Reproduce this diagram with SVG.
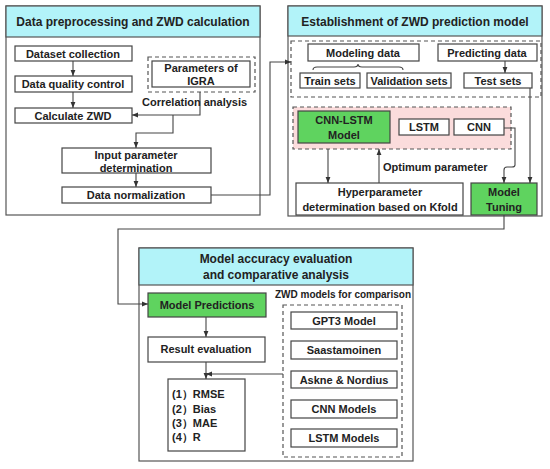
<svg xmlns="http://www.w3.org/2000/svg" width="550" height="469" viewBox="0 0 550 469">
<defs>
<marker id="ah" viewBox="0 0 10 10" refX="10" refY="5" markerWidth="6" markerHeight="6" orient="auto" markerUnits="userSpaceOnUse">
<path d="M0,1 L10,5 L0,9 z" fill="#333"/>
</marker>
<style>
text{font-family:"Liberation Sans",Arial,sans-serif;font-weight:bold;fill:#222;font-size:11px;text-anchor:middle}
.t{font-size:12px}
.s{font-size:10px}
.l{text-anchor:start}
.panel{fill:#fff;stroke:#555;stroke-width:1.2}
.hdr{fill:#b2f3f9;stroke:#555;stroke-width:1.2}
.box{fill:#fff;stroke:#444;stroke-width:1.2}
.g{fill:#5fd35f;stroke:#444;stroke-width:1.2}
.dash{fill:none;stroke:#555;stroke-width:1.2;stroke-dasharray:4 3}
.pink{fill:#fbdcdc;stroke:#555;stroke-width:1.2;stroke-dasharray:4 3}
.c{fill:none;stroke:#444;stroke-width:1.1}
</style>
</defs>

<g id="panel1">
<rect class="panel" x="6" y="6" width="254" height="209"/>
<rect class="hdr" x="6" y="6" width="254" height="31"/>
<text class="t" x="133" y="26">Data preprocessing and ZWD calculation</text>
</g>
<g id="panel2">
<rect class="panel" x="288" y="6" width="254" height="210"/>
<rect class="hdr" x="288" y="6" width="254" height="30"/>
<text class="t" x="415" y="26">Establishment of ZWD prediction model</text>
</g>
<g id="panel3">
<rect class="panel" x="139" y="248" width="274" height="213"/>
<rect class="hdr" x="139" y="248" width="274" height="37"/>
<text class="t" x="276" y="263">Model accuracy evaluation</text>
<text class="t" x="276" y="279">and comparative analysis</text>
</g>

<g id="dataset-collection"><rect class="box" x="15" y="46" width="117" height="15"/><text x="73" y="58">Dataset collection</text></g>
<g id="data-quality"><rect class="box" x="15" y="76" width="117" height="16"/><text x="73" y="88">Data quality control</text></g>
<g id="calc-zwd"><rect class="box" x="15" y="108" width="117" height="15"/><text x="73" y="120">Calculate ZWD</text></g>
<g id="igra">
<rect class="dash" x="148" y="57" width="107" height="35"/>
<rect class="box" x="152" y="61" width="98" height="26"/>
<text x="201" y="72">Parameters of</text>
<text x="201" y="85">IGRA</text>
</g>
<g id="input-param"><rect class="box" x="62" y="148" width="149" height="25"/><text x="136" y="159">Input parameter</text><text x="136" y="172">determination</text></g>
<g id="data-norm"><rect class="box" x="62" y="187" width="149" height="16"/><text x="136" y="199">Data normalization</text></g>

<g id="data-split">
<rect class="dash" x="291" y="41" width="250" height="56"/>
<rect class="box" x="308" y="44" width="111" height="17"/><text x="363" y="57">Modeling data</text>
<rect class="box" x="438" y="44" width="99" height="17"/><text x="487" y="57">Predicting data</text>
<rect class="box" x="300" y="73" width="60" height="15"/><text x="330" y="85">Train sets</text>
<rect class="box" x="367" y="73" width="84" height="15"/><text x="409" y="85">Validation sets</text>
<rect class="box" x="464" y="73" width="68" height="15"/><text x="498" y="85">Test sets</text>
<path class="c" d="M313,70 Q313,67 317,67 L354,67 Q358,67 358,64 Q358,67 362,67 L399,67 Q403,67 403,70"/>
</g>
<g id="models">
<rect class="pink" x="293" y="107" width="218" height="42"/>
<rect class="g" x="298" y="111" width="92" height="32"/><text x="344" y="124">CNN-LSTM</text><text x="344" y="139">Model</text>
<rect class="box" x="399" y="119" width="50" height="16"/><text x="424" y="131">LSTM</text>
<rect class="box" x="454" y="119" width="50" height="16"/><text x="479" y="131">CNN</text>
</g>
<g id="hyperparam"><rect class="box" x="296" y="183" width="167" height="32"/><text x="380" y="196">Hyperparameter</text><text x="380" y="211">determination based on Kfold</text></g>
<g id="model-tuning"><rect class="g" x="471" y="183" width="66" height="32"/><text x="504" y="196">Model</text><text x="504" y="211">Tuning</text></g>

<g id="model-predictions"><rect class="g" x="148" y="293" width="118" height="24"/><text x="207" y="309">Model Predictions</text></g>
<g id="result-eval"><rect class="box" x="148" y="337" width="117" height="25"/><text x="206" y="353">Result evaluation</text></g>
<g id="metrics">
<rect class="box" x="168" y="379" width="77" height="72"/>
<text class="l" x="172" y="398">(1）RMSE</text>
<text class="l" x="172" y="413">(2）Bias</text>
<text class="l" x="172" y="427">(3）MAE</text>
<text class="l" x="172" y="441">(4）R</text>
</g>
<g id="comparison">
<text class="s" x="343" y="298">ZWD models for comparison</text>
<rect class="dash" x="283" y="305" width="119" height="152"/>
<rect class="box" x="291" y="312" width="106" height="17"/><text x="344" y="325">GPT3 Model</text>
<rect class="box" x="291" y="341" width="106" height="18"/><text x="344" y="354">Saastamoinen</text>
<rect class="box" x="291" y="371" width="106" height="17"/><text x="344" y="384">Askne &amp; Nordius</text>
<rect class="box" x="291" y="400" width="106" height="18"/><text x="344" y="413">CNN Models</text>
<rect class="box" x="291" y="429" width="106" height="18"/><text x="344" y="442">LSTM Models</text>
</g>

<g id="connectors">
<path class="c" d="M73,61 V76" marker-end="url(#ah)"/>
<path class="c" d="M73,92 V108" marker-end="url(#ah)"/>
<path class="c" d="M200,92 V115 H132" marker-end="url(#ah)"/>
<path class="c" d="M173,115 V133 H136 V148" marker-end="url(#ah)"/>
<path class="c" d="M136,173 V187" marker-end="url(#ah)"/>
<path class="c" d="M211,195 H270 V62 H291" marker-end="url(#ah)"/>
<path class="c" d="M505,61 V73" marker-end="url(#ah)"/>
<path class="c" d="M328,149 V183" marker-end="url(#ah)"/>
<path class="c" d="M379,183 V149" marker-end="url(#ah)"/>
<path class="c" d="M504,128 H515 V165 Q515,167 512,167 H507 Q504,167 504,170 V183" marker-end="url(#ah)"/>
<path class="c" d="M530,88 V183" marker-end="url(#ah)"/>
<path class="c" d="M504,215 V229 H118 V304 H148" marker-end="url(#ah)"/>
<path class="c" d="M206,317 V337" marker-end="url(#ah)"/>
<path class="c" d="M206,362 V379" marker-end="url(#ah)"/>
<path class="c" d="M283,374 H206" marker-end="url(#ah)"/>
<text class="l" x="142" y="106">Correlation analysis</text>
<text class="l" x="383" y="171">Optimum parameter</text>
</g>
</svg>
